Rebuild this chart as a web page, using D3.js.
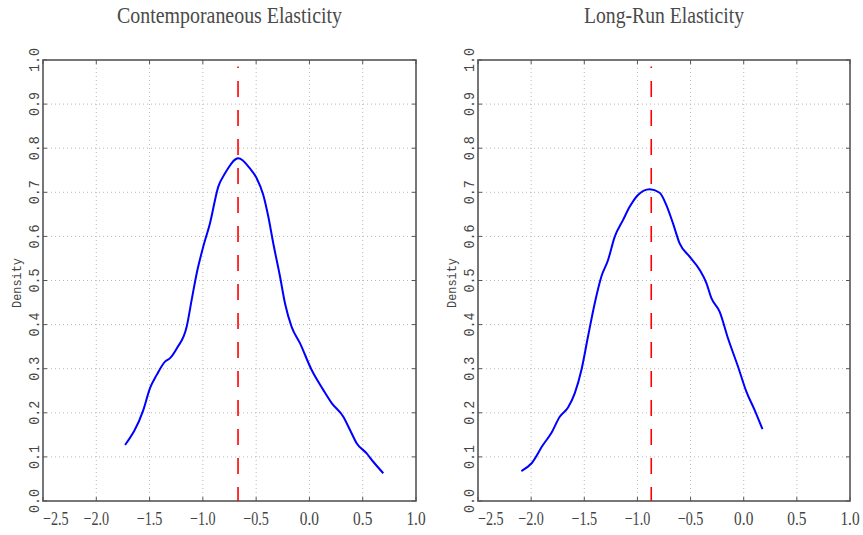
<!DOCTYPE html>
<html>
<head>
<meta charset="utf-8">
<script src="https://cdn.jsdelivr.net/npm/d3@7"></script>
<style>
body { margin:0; background:#fff; }
svg { display:block; }
</style>
</head>
<body>
<svg id="chart" width="863" height="535"></svg>
<script>

// kernel density, contemporaneous elasticity
var contempX = [-1.73, -1.559, -1.496, -1.433, -1.355, -1.308, -1.245, -1.152, -1.105, -1.058, -0.996,
	-0.933, -0.855, -0.792, -0.667, -0.558, -0.495, -0.433, -0.386, -0.339, -0.276, -0.229, -0.167,
	-0.089, 0.021, 0.130, 0.209, 0.318, 0.381, 0.443, 0.537, 0.599, 0.693];
var contempD = [0.127, 0.206, 0.256, 0.286, 0.316, 0.324, 0.346, 0.395, 0.456, 0.516, 0.577,
	0.630, 0.713, 0.743, 0.777, 0.754, 0.732, 0.694, 0.645, 0.584, 0.509, 0.448, 0.395,
	0.358, 0.297, 0.252, 0.222, 0.191, 0.161, 0.131, 0.108, 0.089, 0.063];

// kernel density, long-run elasticity
var longRunX = [-2.092, -1.998, -1.889, -1.810, -1.731, -1.653, -1.590, -1.527, -1.465, -1.402, -1.339,
	-1.277, -1.214, -1.136, -1.073, -0.995, -0.885, -0.791, -0.728, -0.666, -0.603, -0.509, -0.414,
	-0.351, -0.304, -0.226, -0.148, -0.054, 0.025, 0.103, 0.176];
var longRunD = [0.068, 0.085, 0.127, 0.154, 0.191, 0.212, 0.244, 0.297, 0.373, 0.448, 0.509,
	0.546, 0.599, 0.637, 0.667, 0.694, 0.707, 0.699, 0.671, 0.630, 0.584, 0.554, 0.524,
	0.494, 0.460, 0.429, 0.369, 0.305, 0.248, 0.206, 0.163];

var titles = ["Contemporaneous Elasticity", "Long-Run Elasticity"];
var markers = [-0.67, -0.87];   // red dashed line
var markerTop = 0.985;
var xTicks = [-2.5, -2.0, -1.5, -1.0, -0.5, 0.0, 0.5, 1.0];
var yTicks = [0.0, 0.1, 0.2, 0.3, 0.4, 0.5, 0.6, 0.7, 0.8, 0.9, 1.0];

var panels = [
	{x0:43, x1:416, xs:contempX, ds:contempD},
	{x0:478, x1:850, xs:longRunX, ds:longRunD}];
var plotTop = 60, plotBottom = 501;

var svg = d3.select("#chart");
var fmt = d3.format(".1f");

function drawPanel(p, i){
	var x = d3.scaleLinear().domain([-2.5, 1.0]).range([p.x0, p.x1]);
	var y = d3.scaleLinear().domain([0, 1]).range([plotBottom, plotTop]);
	var g = svg.append("g");

	// grid
	g.selectAll(".vgrid").data(xTicks.slice(1, -1)).enter().append("line")
		.attr("x1", function(d){ return x(d); }).attr("x2", function(d){ return x(d); })
		.attr("y1", plotTop).attr("y2", plotBottom)
		.attr("stroke", "#b8b8b8").attr("stroke-dasharray", "1,3");
	g.selectAll(".hgrid").data(yTicks.slice(1, -1)).enter().append("line")
		.attr("y1", function(d){ return y(d); }).attr("y2", function(d){ return y(d); })
		.attr("x1", p.x0).attr("x2", p.x1)
		.attr("stroke", "#b8b8b8").attr("stroke-dasharray", "1,3");

	// inward ticks on all sides
	xTicks.forEach(function(t){
		g.append("line").attr("x1", x(t)).attr("x2", x(t)).attr("y1", plotBottom).attr("y2", plotBottom - 4)
			.attr("stroke", "#555");
		g.append("line").attr("x1", x(t)).attr("x2", x(t)).attr("y1", plotTop).attr("y2", plotTop + 4)
			.attr("stroke", "#555");
	});
	yTicks.forEach(function(t){
		g.append("line").attr("y1", y(t)).attr("y2", y(t)).attr("x1", p.x0).attr("x2", p.x0 + 4)
			.attr("stroke", "#555");
		g.append("line").attr("y1", y(t)).attr("y2", y(t)).attr("x1", p.x1).attr("x2", p.x1 - 4)
			.attr("stroke", "#555");
	});

	// frame
	g.append("rect").attr("x", p.x0).attr("y", plotTop)
		.attr("width", p.x1 - p.x0).attr("height", plotBottom - plotTop)
		.attr("fill", "none").attr("stroke", "#555").attr("stroke-width", 1.6);

	// red dashed marker, drawn top-down so it starts with a short dot
	g.append("line")
		.attr("x1", x(markers[i])).attr("x2", x(markers[i]))
		.attr("y1", y(markerTop)).attr("y2", y(0))
		.attr("stroke", "#ff0000").attr("stroke-width", 1.6)
		.attr("stroke-dasharray", "16,13").attr("stroke-dashoffset", 14.5);

	// density curve
	var pts = p.xs.map(function(v, k){ return [v, p.ds[k]]; });
	var line = d3.line()
		.x(function(d){ return x(d[0]); })
		.y(function(d){ return y(d[1]); })
		.curve(d3.curveMonotoneX);
	g.append("path").datum(pts).attr("d", line)
		.attr("fill", "none").attr("stroke", "#0000ff").attr("stroke-width", 2);

	// x tick labels
	xTicks.forEach(function(t){
		var s = fmt(t);
		var len = s.length * 6.4;
		var cx = Math.max(x(t) - len / 2, p.x0);
		g.append("text").attr("x", cx).attr("y", 525)
			.attr("text-anchor", "start")
			.attr("font-family", "Liberation Serif").attr("font-size", 19)
			.attr("fill", "#444")
			.attr("textLength", len).attr("lengthAdjust", "spacingAndGlyphs")
			.text(s);
	});

	// y tick labels (rotated)
	yTicks.forEach(function(t){
		g.append("text")
			.attr("transform", "translate(" + (p.x0 - 4) + "," + y(t) + ") rotate(-90)")
			.attr("text-anchor", "middle")
			.attr("font-family", "Liberation Mono").attr("font-size", 14)
			.attr("fill", "#444")
			.attr("textLength", 24).attr("lengthAdjust", "spacingAndGlyphs")
			.text(fmt(t));
	});

	g.append("text")
		.attr("transform", "translate(" + (p.x0 - 22) + "," + 283 + ") rotate(-90)")
		.attr("text-anchor", "middle")
		.attr("font-family", "Liberation Mono").attr("font-size", 12)
		.attr("fill", "#444")
		.attr("textLength", 50).attr("lengthAdjust", "spacingAndGlyphs")
		.text("Density");

	// title
	g.append("text")
		.attr("x", (p.x0 + p.x1) / 2).attr("y", 23)
		.attr("text-anchor", "middle")
		.attr("font-family", "Liberation Serif").attr("font-size", 23)
		.attr("fill", "#4a4a4a")
		.attr("textLength", i == 0 ? 225 : 160).attr("lengthAdjust", "spacingAndGlyphs")
		.text(titles[i]);
}

panels.forEach(drawPanel);

</script>
</body>
</html>
